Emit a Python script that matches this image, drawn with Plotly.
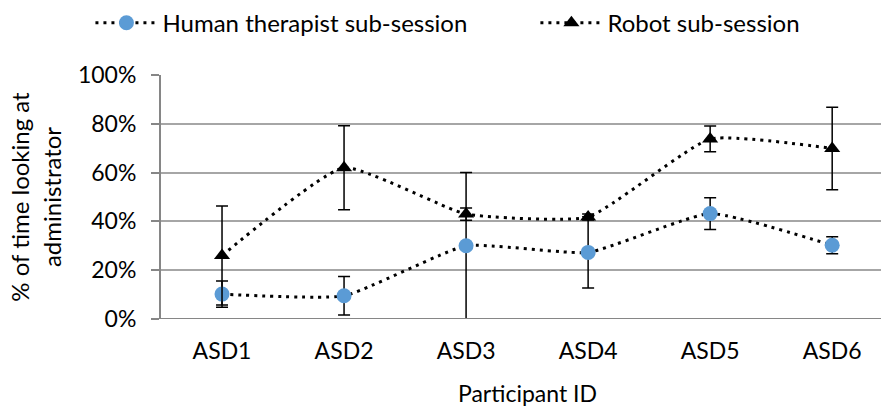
import plotly.graph_objects as go

# Participants and percentage of session time spent looking at the administrator
participants = ["ASD1", "ASD2", "ASD3", "ASD4", "ASD5", "ASD6"]
human_pct = [10.2, 9.5, 30.0, 27.3, 43.2, 30.2]
human_err = [5.4, 7.9, 30.0, 14.6, 6.5, 3.5]
robot_pct = [26.0, 62.0, 43.0, 41.8, 73.8, 69.9]
robot_err = [20.3, 17.2, 2.5, 1.2, 5.3, 16.9]
y_ticks = [0, 20, 40, 60, 80, 100]
y_labels = [f"{v}%" for v in y_ticks]

FONT = "Lato"
GRID = "#A6A6A6"
AXIS = "#868686"
x_idx = list(range(len(participants)))

fig = go.Figure()
fig.add_trace(go.Scatter(
    x=x_idx, y=human_pct, name="Human therapist sub-session",
    mode="lines+markers", legend="legend",
    line=dict(color="black", width=3, dash="3px,5px", shape="spline", smoothing=0.45),
    marker=dict(symbol="circle", size=15, color="#5B9BD5"),
    error_y=dict(type="data", array=human_err, visible=True,
                 color="black", thickness=1.5, width=6),
))
fig.add_trace(go.Scatter(
    x=x_idx, y=robot_pct, name="Robot sub-session",
    mode="lines+markers", legend="legend2",
    line=dict(color="black", width=3, dash="3px,5px", shape="spline", smoothing=0.45),
    marker=dict(symbol="triangle-up", size=14, color="black"),
    error_y=dict(type="data", array=robot_err, visible=True,
                 color="black", thickness=1.5, width=6),
))

# x-axis title centred under the category band
fig.add_annotation(x=2.5, y=0, xref="x", yref="paper", yshift=-74, yanchor="middle",
                   text="Participant ID", showarrow=False,
                   font=dict(family=FONT, size=23, color="black"))

# baseline extends past the y-axis like a tick
fig.add_shape(type="line", xref="paper", yref="y", x0=-9 / 720, x1=1, y0=0, y1=0,
              line=dict(color=AXIS, width=2))

legend_style = dict(orientation="h", xanchor="left", y=1.305, yanchor="top",
                    font=dict(family=FONT, size=24), itemwidth=62,
                    bgcolor="rgba(0,0,0,0)")

fig.update_layout(
    width=882, height=409,
    margin=dict(l=161, r=1, t=75, b=90),
    paper_bgcolor="white", plot_bgcolor="white",
    font=dict(family=FONT, size=23, color="black"),
    showlegend=True,
    legend=dict(x=-0.098, **legend_style),
    legend2=dict(x=0.52, **legend_style),
    xaxis=dict(range=[-0.5, 5.4], tickmode="array", tickvals=x_idx, ticktext=participants,
               showgrid=False, zeroline=False, showline=False, ticks="",
               ticklabelstandoff=16,
               tickfont=dict(family=FONT, size=23, color="black")),
    yaxis=dict(range=[0, 100], tickmode="array", tickvals=y_ticks, ticktext=y_labels,
               showgrid=True, gridcolor=GRID, gridwidth=1.5, zeroline=False,
               showline=True, linecolor=AXIS, linewidth=2,
               ticks="outside", ticklen=8, tickcolor=AXIS, tickwidth=1.5,
               ticklabelstandoff=10,
               tickfont=dict(family=FONT, size=23, color="black"),
               title=dict(text="% of time looking at<br>administrator",
                          font=dict(family=FONT, size=24), standoff=10)),
)

fig.write_html("out.html")
